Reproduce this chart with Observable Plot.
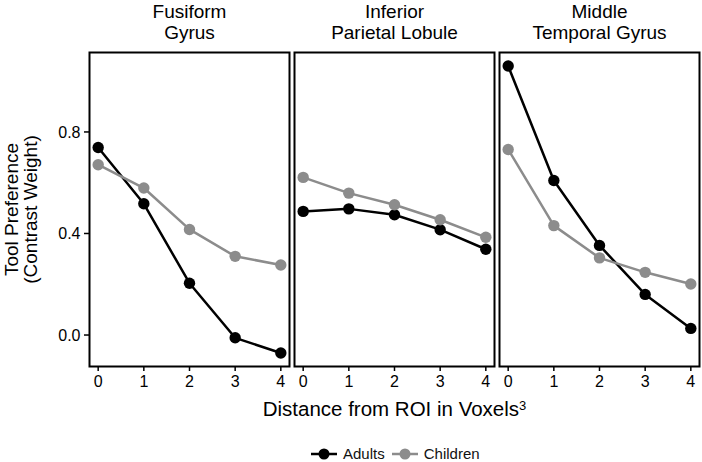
<!DOCTYPE html>
<html>
<head>
<meta charset="utf-8">
<script src="https://cdn.jsdelivr.net/npm/d3@7"></script>
<script src="https://cdn.jsdelivr.net/npm/@observablehq/plot@0.6"></script>
<style>
  html, body { margin: 0; padding: 0; background: white; overflow: hidden; }
  #wrap { position: relative; width: 702px; height: 462px; font-family: "Liberation Sans", Arial, sans-serif; }
  #legend { position: absolute; left: 311px; top: 447px; height: 14px; line-height: 14px; display: flex; align-items: center; font-size: 15px; color: #111; }
  #legend .item { display: flex; align-items: center; margin-right: 7px; }
  #legend svg { margin-right: 6px; }
  #wrap svg g[aria-label="fx-axis tick label"] text { font-size: 19px; }
  #wrap svg g[aria-label="y-axis label"] text { font-size: 19px; }
  #wrap svg g[aria-label="text"] text { font-size: 20.5px; }
</style>
</head>
<body>
<div id="wrap"></div>
<script>
const regions = ["Fusiform Gyrus", "Inferior Parietal Lobule", "Middle Temporal Gyrus"];
const regionLabels = ["Fusiform\nGyrus", "Inferior\nParietal Lobule", "Middle\nTemporal Gyrus"];
const distances = [0, 1, 2, 3, 4];
const groups = ["Adults", "Children"];
const groupColors = ["#000000", "#8c8c8c"];
const yTicks = [0.0, 0.4, 0.8];

const fusiformAdults   = [0.739, 0.517, 0.204, -0.011, -0.071];
const fusiformChildren = [0.671, 0.579, 0.416, 0.310, 0.276];
const iplAdults        = [0.487, 0.497, 0.474, 0.415, 0.338];
const iplChildren      = [0.621, 0.559, 0.513, 0.454, 0.385];
const mtgAdults        = [1.060, 0.609, 0.353, 0.160, 0.026];
const mtgChildren      = [0.731, 0.431, 0.304, 0.247, 0.201];

const series = [
  [regions[0], groups[0], fusiformAdults],
  [regions[0], groups[1], fusiformChildren],
  [regions[1], groups[0], iplAdults],
  [regions[1], groups[1], iplChildren],
  [regions[2], groups[0], mtgAdults],
  [regions[2], groups[1], mtgChildren]
];
const data = [];
for (const [region, group, vals] of series) {
  vals.forEach((v, i) => data.push({region, group, distance: distances[i], value: v}));
}
const labelMap = Object.fromEntries(regions.map((r, i) => [r, regionLabels[i]]));

const chart = Plot.plot({
  width: 702,
  height: 440,
  marginLeft: 88,
  marginRight: 3,
  marginTop: 52,
  marginBottom: 74,
  style: {fontFamily: "'Liberation Sans', Arial, sans-serif", fontSize: "16px", color: "black", background: "white"},
  fx: {domain: regions, padding: 0.0268, label: null},
  x: {domain: [-0.19, 4.19]},
  y: {domain: [-0.124, 1.113]},
  color: {domain: groups, range: groupColors},
  marks: [
    Plot.frame({stroke: "black", strokeWidth: 2}),
    Plot.axisFx({anchor: "top", tickSize: 0, tickPadding: 14, lineHeight: 1.07, tickFormat: d => labelMap[d], label: null}),
    Plot.axisX({ticks: distances, tickSize: 5, tickPadding: 4, tickFormat: d => String(d), label: null, strokeWidth: 1.5, fontSize: 16}),
    Plot.axisY({ticks: yTicks, tickSize: 5, tickPadding: 4, tickFormat: d => d.toFixed(1), strokeWidth: 1.5, fontSize: 16,
      label: "Tool Preference\n(Contrast Weight)", labelAnchor: "center", labelArrow: "none", labelOffset: 85, lineHeight: 1.1}),
    Plot.line(data, {fx: "region", x: "distance", y: "value", z: "group", stroke: "group", strokeWidth: 2.5}),
    Plot.dot(data, {fx: "region", x: "distance", y: "value", fill: "group", r: 5.7}),
    Plot.text([{region: regions[1], t: "Distance from ROI in Voxels³"}], {fx: "region", text: "t", frameAnchor: "bottom", dy: 49})
  ]
});
document.getElementById("wrap").appendChild(chart);

// render the cube as a true superscript
d3.select(chart).selectAll('g[aria-label="text"] text').each(function() {
  const el = d3.select(this);
  const s = el.text();
  if (s.endsWith("³")) {
    el.text(s.slice(0, -1));
    el.append("tspan").attr("dy", "-0.45em").style("font-size", "13px").text("3");
  }
});

const legend = document.createElement("div");
legend.id = "legend";
groups.forEach((g, i) => {
  const item = document.createElement("div");
  item.className = "item";
  item.innerHTML = `<svg width="26" height="12"><line x1="0" y1="6" x2="26" y2="6" stroke="${groupColors[i]}" stroke-width="2.5"/><circle cx="13" cy="6" r="5.5" fill="${groupColors[i]}"/></svg><span>${g}</span>`;
  legend.appendChild(item);
});
document.getElementById("wrap").appendChild(legend);
</script>
</body>
</html>
